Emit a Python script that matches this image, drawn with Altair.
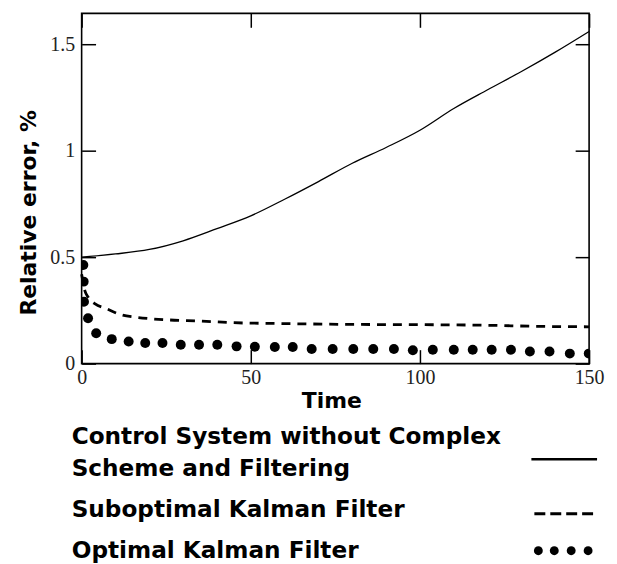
import altair as alt
import pandas as pd

# ---- data ----
t_solid = [0, 10, 20, 30, 40, 50, 60, 70, 80, 90, 100, 110, 120, 130, 140, 150]
v_solid = [0.50, 0.515, 0.536, 0.577, 0.634, 0.694, 0.772, 0.855, 0.941, 1.015,
           1.096, 1.198, 1.286, 1.372, 1.463, 1.56]

t_dash = [0, 1, 2, 4, 7, 12, 16, 21, 26, 35, 45, 60, 80, 100, 120, 135, 150]
v_dash = [0.42, 0.34, 0.31, 0.28, 0.26, 0.228, 0.218, 0.21, 0.205, 0.2, 0.192,
          0.188, 0.184, 0.183, 0.18, 0.175, 0.173]

t_dots = [0.5, 0.6, 0.7, 1.9, 4.3, 8.9, 13.9, 18.8, 23.9, 29.3, 34.7, 40.1, 45.8,
          51.2, 57.1, 62.4, 68.0, 74.2, 80.3, 86.2, 92.3, 97.9, 103.8, 110.0,
          115.6, 121.2, 126.9, 132.5, 138.3, 144.3, 149.9]
v_dots = [0.463, 0.385, 0.291, 0.213, 0.143, 0.115, 0.104, 0.097, 0.097, 0.089,
          0.089, 0.089, 0.081, 0.079, 0.078, 0.078, 0.069, 0.069, 0.069, 0.069,
          0.069, 0.063, 0.065, 0.065, 0.065, 0.065, 0.065, 0.057, 0.057, 0.047,
          0.047]

x_ticks = [0, 50, 100, 150]
y_ticks = [0, 0.5, 1, 1.5]
legend_labels = ["Control System without Complex", "Scheme and Filtering",
                 "Suboptimal Kalman Filter", "Optimal Kalman Filter"]
x_title = "Time"
y_title = "Relative error, %"

solid_df = pd.DataFrame({"t": t_solid, "v": v_solid})
dash_df = pd.DataFrame({"t": t_dash, "v": v_dash})
dots_df = pd.DataFrame({"t": t_dots, "v": v_dots})

W, H = 510, 352
xs = alt.Scale(domain=[0, 150], nice=False, zero=False)
ys = alt.Scale(domain=[0, 1.645], nice=False, zero=False)

LBL = dict(labelFont="Liberation Serif", labelFontSize=20, labelColor="#222",
           labelFontWeight="normal")
TTL = dict(titleFont="DejaVu Sans", titleFontSize=22, titleFontWeight="bold",
           titleColor="black")

x_axis = alt.Axis(values=x_ticks, offset=-14, tickSize=14, domain=False, grid=False,
                  labelPadding=4, labelFlush=False, title=x_title, format="d",
                  titleX=251, titleY=58, titleBaseline="alphabetic",
                  titleAlign="center", **LBL, **TTL)
y_axis = alt.Axis(values=y_ticks, offset=-14, tickSize=14, domain=False, grid=False,
                  labelPadding=7, labelFlush=False, title=y_title, format="~g",
                  titleX=-67, titleY=200, titleAngle=270, titleBaseline="middle",
                  titleAlign="center", **LBL, **TTL)
x_axis_top = alt.Axis(values=x_ticks, orient="top", offset=-14, tickSize=14,
                      domain=False, grid=False, labels=False, title=None)
y_axis_right = alt.Axis(values=y_ticks, orient="right", offset=-14, tickSize=14,
                        domain=False, grid=False, labels=False, title=None)

solid = alt.Chart(solid_df).mark_line(color="black", strokeWidth=1.3,
                                      interpolate="monotone").encode(
    x=alt.X("t:Q", scale=xs, axis=x_axis),
    y=alt.Y("v:Q", scale=ys, axis=y_axis),
)
dashed = alt.Chart(dash_df).mark_line(color="black", strokeWidth=2.8,
                                      strokeDash=[9, 7],
                                      interpolate="monotone").encode(
    x=alt.X("t:Q", scale=xs, axis=x_axis_top),
    y=alt.Y("v:Q", scale=ys, axis=y_axis_right),
)
dots = alt.Chart(dots_df).mark_circle(color="black", size=100, opacity=1,
                                      clip=True).encode(
    x=alt.X("t:Q", scale=xs, axis=None),
    y=alt.Y("v:Q", scale=ys, axis=None),
)

# ---- legend below the plot (labels left, samples right) ----
one = pd.DataFrame({"k": [0]})
leg_y = [433, 465, 506, 547]
leg_layers = []
for lab, yy in zip(legend_labels, leg_y):
    leg_layers.append(
        alt.Chart(one).mark_text(align="left", baseline="alphabetic",
                                 font="DejaVu Sans", fontSize=23.3,
                                 fontWeight="bold", color="black").encode(
            x=alt.value(-10), y=alt.value(yy), text=alt.value(lab))
    )
leg_solid = alt.Chart(one).mark_rule(color="black", strokeWidth=2.5).encode(
    x=alt.value(452), x2=alt.value(518), y=alt.value(448))
leg_dash = alt.Chart(one).mark_rule(color="black", strokeWidth=3,
                                    strokeDash=[11, 5]).encode(
    x=alt.value(455), x2=alt.value(514), y=alt.value(503))
leg_dot_x = [459, 475, 492, 509]
leg_dots = [
    alt.Chart(one).mark_circle(color="black", size=80, opacity=1).encode(
        x=alt.value(px), y=alt.value(540))
    for px in leg_dot_x
]

chart = alt.layer(solid, dashed, dots, *leg_layers, leg_solid, leg_dash, *leg_dots).resolve_axis(
    x="independent", y="independent"
).properties(
    width=W, height=H,
    autosize=alt.AutoSizeParams(type="none"),
    padding={"left": 74, "top": 4, "right": 20, "bottom": 200},
    background="white",
).configure_view(
    stroke="black", strokeWidth=1.6
).configure_axis(
    tickColor="black", tickWidth=1.5
)

chart.save("out.html", embed_options={"renderer": "svg", "actions": False})
